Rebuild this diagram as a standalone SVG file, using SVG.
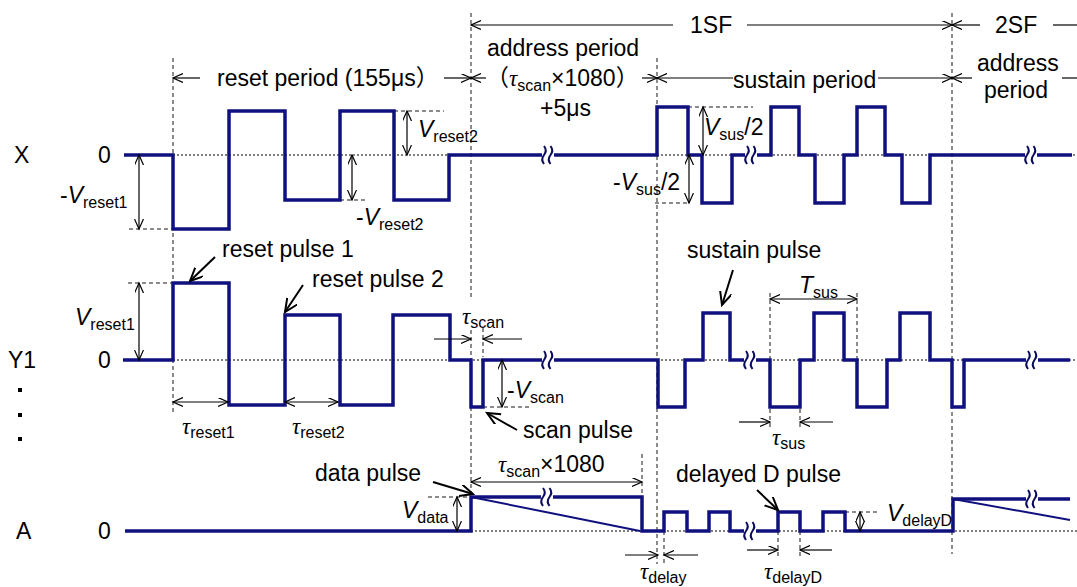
<svg xmlns="http://www.w3.org/2000/svg" width="1077" height="587" viewBox="0 0 1077 587">
<style>
.w{fill:none;stroke:#10107e;stroke-width:3.5;stroke-linejoin:miter;stroke-linecap:butt}
.rp{fill:none;stroke:#10107e;stroke-width:2}
.da{fill:none;stroke:#666;stroke-width:1.5;stroke-dasharray:4 3}
.dt{fill:none;stroke:#000;stroke-width:1;stroke-dasharray:2 2}
.dim{fill:none;stroke:#000;stroke-width:1.2;marker-start:url(#a);marker-end:url(#a)}
.one{fill:none;stroke:#000;stroke-width:1.2;marker-end:url(#a)}
.ln{fill:none;stroke:#000;stroke-width:1.2}
.call{fill:none;stroke:#000;stroke-width:2;marker-end:url(#b)}
text{font-family:"Liberation Sans",Arial,"Noto Sans CJK JP",sans-serif;font-size:23px;fill:#000}
.i{font-style:italic}
.s{font-size:16px}
.t{font-family:"Liberation Serif","Times New Roman",serif;font-style:italic}
.cj{font-family:"Noto Sans CJK JP",sans-serif}
.bk{fill:none;stroke:#0a0a60;stroke-width:2}
</style>
<defs>
<marker id="a" markerUnits="userSpaceOnUse" markerWidth="12" markerHeight="10" refX="10" refY="4.5" orient="auto-start-reverse" viewBox="0 0 12 10">
<path d="M0,0 L10,4.5 L0,9" fill="none" stroke="#000" stroke-width="1.2"/>
</marker>
<marker id="b" markerUnits="userSpaceOnUse" markerWidth="16" markerHeight="14" refX="13" refY="6" orient="auto" viewBox="0 0 16 14">
<path d="M0,0 L13,6 L0,12" fill="none" stroke="#000" stroke-width="2"/>
</marker>
<g id="brk">
<rect x="-6" y="-10" width="12" height="20" fill="#fff"/>
<path class="bk" d="M-4,-9 q3.5,4.5 0,9 q-3.5,4.5 0,9"/>
<path class="bk" d="M2.5,-9 q3.5,4.5 0,9 q-3.5,4.5 0,9"/>
</g>
</defs>

<g id="guides">
<path class="dt" d="M173,155 H1077 M173,360 H1077 M471,531 H1077"/>
<path class="da" d="M173,58 V412 M471,13 V300 M471,330 V531 M657,58 V564 M952,13 V554 M483,328 V357 M664,531 V564 M642,454 V531 M770,293 V360 M770,409 V427 M800,409 V427 M857,293 V360 M778,531 V557 M800,531 V557"/>
<path class="da" d="M129,229 H173 M394,111 H444 M340,200 H367 M128,283 H173 M483,407 H532 M688,107 H753 M655,203 H688 M428,497 H471 M845,512 H877"/>
</g>

<g id="wave-X">
<path class="w" d="M124,155 H173 V229 H229 V111 H285 V200 H340 V111 H394 V200 H449 V155 H657 V107 H688 V155 H702 V203 H732 V155 H771 V107 H799 V155 H815 V203 H844 V155 H857 V107 H885 V155 H902 V203 H930 V155 H1072"/>
<use href="#brk" x="548" y="155"/>
<use href="#brk" x="751" y="155"/>
<use href="#brk" x="1031" y="155"/>
</g>

<g id="wave-Y1">
<path class="w" d="M123,360 H173 V283 H229 V405 H285 V315 H340 V405 H393 V315 H450 V360 H471 V407 H483 V360 H658 V407 H685 V360 H703 V313 H730 V360 H770 V407 H800 V360 H814 V313 H844 V360 H857 V407 H887 V360 H900 V313 H930 V360 H952 V407 H964 V360 H1070"/>
<use href="#brk" x="548" y="360"/>
<use href="#brk" x="750" y="360"/>
<use href="#brk" x="1032" y="360"/>
</g>

<g id="wave-A">
<path class="w" d="M125,531 H471 V497 H642 V531 H664 V512 H687 V531 H709 V512 H730 V531 H778 V512 H800 V531 H823 V512 H845 V531 H953 V499 H1070"/>
<path class="rp" d="M471,497 L640,531 M953,499 L1070,520"/>
<use href="#brk" x="547" y="497"/>
<use href="#brk" x="750" y="531"/>
<use href="#brk" x="1032" y="499"/>
</g>

<g id="connectors">
<path class="dim" d="M139,155 V229"/>
<path class="dim" d="M139,283 V360"/>
<path class="dim" d="M407,111 V155"/>
<path class="dim" d="M352,155 V200"/>
<path class="dim" d="M703,107 V155"/>
<path class="dim" d="M689,155 V203"/>
<path class="dim" d="M502,360 V407"/>
<path class="dim" d="M457,497 V531"/>
<path class="dim" d="M860,512 V531"/>
<path class="dim" d="M770,299 H857"/>
<path class="dim" d="M471,482 H642"/>
<path class="dim" d="M173,402 H228"/>
<path class="dim" d="M285,402 H338"/>
<path class="one" d="M434,339 H471"/>
<path class="one" d="M522,339 H483"/>
<path class="one" d="M739,422 H770"/>
<path class="one" d="M833,422 H800"/>
<path class="one" d="M625,555 H658"/>
<path class="one" d="M698,555 H664"/>
<path class="one" d="M747,550 H778"/>
<path class="one" d="M832,550 H800"/>
<path class="one" d="M200,78 H173"/>
<path class="one" d="M444,78 H471"/>
<path class="one" d="M486,78 H471"/>
<path class="one" d="M642,78 H657"/>
<path class="one" d="M733,78 H657"/>
<path class="one" d="M878,78 H952"/>
<path class="one" d="M972,78 H952"/>
<path class="ln" d="M1062,78 H1077"/>
<path class="one" d="M673,25 H471"/>
<path class="one" d="M747,25 H952"/>
<path class="one" d="M980,25 H952"/>
<path class="ln" d="M1053,25 H1077"/>
<path class="call" d="M215,257 L190,281"/>
<path class="call" d="M303,285 L285,312"/>
<path class="call" d="M733,270 L722,305"/>
<path class="call" d="M517,430 L487,413"/>
<path class="call" d="M433,482 L473,494"/>
<path class="call" d="M757,490 L778,510"/>
</g>

<g id="row-labels">
<text x="14" y="163">X</text>
<text x="98" y="163">0</text>
<text x="8" y="368">Y1</text>
<text x="98" y="368">0</text>
<rect x="18" y="388" width="4" height="4"/>
<rect x="18" y="413" width="4" height="4"/>
<rect x="18" y="437" width="4" height="4"/>
<text x="16" y="539">A</text>
<text x="98" y="539">0</text>
</g>

<g id="period-labels">
<text x="217" y="86">reset period (155μs<tspan class="cj">）</tspan></text>
<text x="487" y="56">address period</text>
<text x="486" y="86"><tspan class="cj">（</tspan><tspan class="t">τ</tspan><tspan class="s" dy="5">scan</tspan><tspan dy="-5">×1080</tspan><tspan class="cj">）</tspan></text>
<text x="540" y="116">+5μs</text>
<text x="733" y="88">sustain period</text>
<text x="690" y="33">1SF</text>
<text x="995" y="33">2SF</text>
<text x="977" y="71">address</text>
<text x="984" y="98">period</text>
</g>

<g id="value-labels">
<text x="60" y="203">-<tspan class="i">V</tspan><tspan class="s" dy="5">reset1</tspan></text>
<text x="418" y="137"><tspan class="i">V</tspan><tspan class="s" dy="5">reset2</tspan></text>
<text x="356" y="225">-<tspan class="i">V</tspan><tspan class="s" dy="5">reset2</tspan></text>
<text x="704" y="135"><tspan class="i">V</tspan><tspan class="s" dy="5">sus</tspan><tspan dy="-5">/2</tspan></text>
<text x="613" y="190">-<tspan class="i">V</tspan><tspan class="s" dy="5">sus</tspan><tspan dy="-5">/2</tspan></text>
<text x="75" y="325"><tspan class="i">V</tspan><tspan class="s" dy="5">reset1</tspan></text>
<text x="462" y="324"><tspan class="t">τ</tspan><tspan class="s" dy="4">scan</tspan></text>
<text x="507" y="398">-<tspan class="i">V</tspan><tspan class="s" dy="5">scan</tspan></text>
<text x="799" y="293"><tspan class="i">T</tspan><tspan class="s" dy="5">sus</tspan></text>
<text x="772" y="445"><tspan class="t">τ</tspan><tspan class="s" dy="4">sus</tspan></text>
<text x="182" y="434"><tspan class="t">τ</tspan><tspan class="s" dy="4">reset1</tspan></text>
<text x="292" y="434"><tspan class="t">τ</tspan><tspan class="s" dy="4">reset2</tspan></text>
<text x="402" y="518"><tspan class="i">V</tspan><tspan class="s" dy="5">data</tspan></text>
<text x="498" y="472"><tspan class="t">τ</tspan><tspan class="s" dy="5">scan</tspan><tspan dy="-5">×1080</tspan></text>
<text x="887" y="521"><tspan class="i">V</tspan><tspan class="s" dy="5">delayD</tspan></text>
<text x="640" y="579"><tspan class="t">τ</tspan><tspan class="s" dy="4">delay</tspan></text>
<text x="764" y="579"><tspan class="t">τ</tspan><tspan class="s" dy="4">delayD</tspan></text>
</g>

<g id="pulse-labels">
<text x="222" y="257">reset pulse 1</text>
<text x="312" y="287">reset pulse 2</text>
<text x="687" y="258">sustain pulse</text>
<text x="523" y="438">scan pulse</text>
<text x="315" y="481">data pulse</text>
<text x="676" y="482">delayed D pulse</text>
</g>
</svg>
